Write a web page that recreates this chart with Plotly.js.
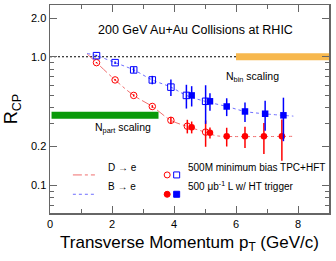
<!DOCTYPE html>
<html>
<head>
<meta charset="utf-8">
<script src="https://cdn.plot.ly/plotly-3.0.1.min.js"></script>
<style>html,body{margin:0;padding:0;background:#fff;}#chart{width:336px;height:261px;}</style>
</head>
<body>
<div id="chart"></div>
<script>
// ---- data ----
// D -> e (red), open: 500M minimum bias TPC+HFT
const dOpenPt  = [1.5, 2.1, 2.7, 3.3, 3.9, 4.43, 5.02];
const dOpenR   = [0.90, 0.66, 0.50, 0.41, 0.32, 0.288, 0.259];
const dOpenErr = [0.01, 0.01, 0.01, 0.01, 0.02, 0.035, 0.06];
// D -> e (red), filled: 500 ub^-1 L w/ HT trigger
const dFillPt  = [4.57, 5.16, 5.7, 6.29, 6.9, 7.48];
const dFillR   = [0.283, 0.256, 0.24, 0.24, 0.24, 0.24];
const dFillErr = [0.03, 0.025, 0.04, 0.045, 0.065, 0.085];
// B -> e (blue), open
const bOpenPt  = [1.5, 2.1, 2.7, 3.3, 3.9, 4.4, 5.02];
const bOpenR   = [1.02, 0.90, 0.79, 0.66, 0.58, 0.50, 0.45];
const bOpenErr = [0.015, 0.02, 0.04, 0.05, 0.085, 0.105, 0.15];
// B -> e (blue), filled
const bFillPt  = [4.57, 5.16, 5.7, 6.29, 6.94, 7.53];
const bFillR   = [0.50, 0.45, 0.41, 0.375, 0.36, 0.35];
const bFillErr = [0.09, 0.07, 0.065, 0.065, 0.095, 0.13];
// model curves
const dCurvePt = [1.2, 1.5, 2.1, 2.7, 3.3, 3.9, 4.4, 5.0, 5.35, 5.6, 7.85];
const dCurveR  = [1.05, 0.90, 0.66, 0.50, 0.41, 0.32, 0.288, 0.259, 0.243, 0.24, 0.24];
const bCurvePt = [1.2, 1.5, 2.1, 2.7, 3.3, 3.9, 4.4, 5.0, 5.7, 6.3, 6.9, 7.85];
const bCurveR  = [1.06, 1.02, 0.90, 0.79, 0.66, 0.58, 0.50, 0.45, 0.41, 0.375, 0.36, 0.345];
// reference lines / scaling bands
const unityPt = [0, 6];
const unityR  = [1, 1];
const nbinPt  = [6, 9];
const nbinR   = [1, 1];
const npartPt = [0.05, 3.5];
const npartR  = [0.35, 0.35];
// ticks
const xTickVals = [0, 2, 4, 6, 8];
const yTickVals = [0.1, 0.2, 1, 2];
const yTickText = ['0.1', '0.2', '1.0', '2.0'];
const yMinorVals = [0.07, 0.08, 0.09, 0.3, 0.4, 0.5, 0.6, 0.7, 0.8, 0.9];

const RED = 'rgb(255,0,0)', BLUE = 'rgb(0,0,255)';
const FONT = 'Liberation Sans, Arial, Helvetica, sans-serif';

const traces = [
  {x: nbinPt, y: nbinR, mode: 'lines', line: {color: '#f7b84e', width: 7}},
  {x: npartPt, y: npartR, mode: 'lines', line: {color: '#0a9a0a', width: 7}},
  {x: unityPt, y: unityR, mode: 'lines', line: {color: '#000', width: 1, dash: '2px,2px'}},
  {x: dCurvePt, y: dCurveR, mode: 'lines', line: {color: 'rgb(240,110,110)', width: 1, dash: 'dashdot', shape: 'spline'}},
  {x: bCurvePt, y: bCurveR, mode: 'lines', line: {color: 'rgb(110,110,255)', width: 1, dash: 'dot', shape: 'spline'}},
  {x: dOpenPt, y: dOpenR, mode: 'markers', error_y: {type: 'data', array: dOpenErr, color: RED, thickness: 1.5, width: 0},
   marker: {symbol: 'circle-open', size: 6.5, color: RED, line: {width: 1}}},
  {x: bOpenPt, y: bOpenR, mode: 'markers', error_y: {type: 'data', array: bOpenErr, color: BLUE, thickness: 1.5, width: 0},
   marker: {symbol: 'square-open', size: 6.5, color: BLUE, line: {width: 1}}},
  {x: dFillPt, y: dFillR, mode: 'markers', error_y: {type: 'data', array: dFillErr, color: RED, thickness: 1.5, width: 0},
   marker: {symbol: 'circle', size: 6.5, color: RED}},
  {x: bFillPt, y: bFillR, mode: 'markers', error_y: {type: 'data', array: bFillErr, color: BLUE, thickness: 1.5, width: 0},
   marker: {symbol: 'square', size: 6.5, color: BLUE}}
];

function legLine(y, color, dash) {
  return {type: 'line', xref: 'paper', yref: 'paper', x0: 0.082, x1: 0.161, y0: y, y1: y,
          line: {color: color, width: 1, dash: dash}};
}
function legMark(type, x, y, color, filled) {
  return {type: type, xref: 'paper', yref: 'paper', xsizemode: 'pixel', ysizemode: 'pixel',
          xanchor: x, yanchor: y, x0: -3, x1: 3, y0: -3, y1: 3,
          line: {color: color, width: 1}, fillcolor: filled ? color : 'rgba(0,0,0,0)'};
}

const layout = {
  width: 336, height: 261,
  margin: {l: 50, r: 7, t: 5, b: 48},
  paper_bgcolor: '#fff', plot_bgcolor: '#fff',
  showlegend: false,
  font: {family: FONT, size: 11, color: '#000'},
  xaxis: {
    range: [0, 9], tickmode: 'array', tickvals: xTickVals, ticks: 'inside', ticklen: 7, tickcolor: '#666',
    showline: true, linecolor: '#666', linewidth: 1.5, mirror: 'ticks', showgrid: false, zeroline: false,
    minor: {dtick: 1, ticks: 'inside', ticklen: 4, tickcolor: '#666', showgrid: false},
    tickfont: {size: 11}, title: {text: 'Transverse Momentum p<sub>T</sub> (GeV/c)', font: {size: 17}, standoff: 7}
  },
  yaxis: {
    type: 'log', range: [Math.log10(0.0607), Math.log10(2.53)], tickmode: 'array', tickvals: yTickVals, ticktext: yTickText,
    ticks: 'inside', ticklen: 7, tickcolor: '#666', showline: true, linecolor: '#666', linewidth: 1.5, mirror: 'ticks',
    showgrid: false, zeroline: false,
    minor: {tickmode: 'array', tickvals: yMinorVals, ticks: 'inside', ticklen: 4, tickcolor: '#666', showgrid: false},
    tickfont: {size: 11}, title: {text: 'R<sub>CP</sub>', font: {size: 18}, standoff: 8}
  },
  annotations: [
    {xref: 'paper', yref: 'paper', x: 0.523, y: 0.925, text: '200 GeV Au+Au Collisions at RHIC', showarrow: false, font: {size: 12.5}},
    {xref: 'paper', yref: 'paper', x: 0.828, y: 0.696, text: 'N<sub>bin</sub> scaling', showarrow: false, font: {size: 10.5}},
    {xref: 'paper', yref: 'paper', x: 0.154, y: 0.407, text: 'N<sub>part</sub> scaling', showarrow: false, font: {size: 10.5}},
    {xref: 'paper', yref: 'paper', x: 0.200, y: 0.183, xanchor: 'left', text: 'D → e', showarrow: false, font: {size: 10}},
    {xref: 'paper', yref: 'paper', x: 0.200, y: 0.090, xanchor: 'left', text: 'B → e', showarrow: false, font: {size: 10}},
    {xref: 'paper', yref: 'paper', x: 0.488, y: 0.183, xanchor: 'left', text: '500M minimum bias TPC+HFT', showarrow: false, font: {size: 10}},
    {xref: 'paper', yref: 'paper', x: 0.488, y: 0.090, xanchor: 'left', text: '500 μb<sup>-1</sup> L w/ HT trigger', showarrow: false, font: {size: 10}}
  ],
  shapes: [
    legLine(0.183, 'rgb(240,110,110)', 'dashdot'),
    legLine(0.090, 'rgb(110,110,255)', 'dot'),
    legMark('circle', 0.420, 0.183, RED, false),
    legMark('rect', 0.454, 0.183, BLUE, false),
    legMark('circle', 0.420, 0.090, RED, true),
    legMark('rect', 0.454, 0.090, BLUE, true)
  ]
};

Plotly.newPlot('chart', traces, layout, {displayModeBar: false, staticPlot: true});
</script>
</body>
</html>
